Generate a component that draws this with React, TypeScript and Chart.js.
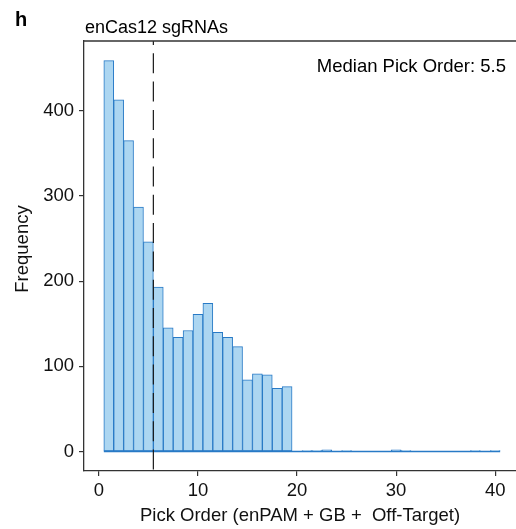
import React, { useEffect, useRef } from "react";
import { Chart, registerables } from "chart.js";

Chart.register(...registerables);

const PANEL_LABEL = "h";
const TITLE = "enCas12 sgRNAs";
const X_TITLE = "Pick Order (enPAM + GB +  Off-Target)";
const Y_TITLE = "Frequency";
const MEDIAN = 5.5;
const MEDIAN_LABEL = "Median Pick Order: 5.5";

const PICK_ORDER = [
  1, 2, 3, 4, 5, 6, 7, 8, 9, 10, 11, 12, 13, 14, 15, 16, 17, 18, 19, 20,
  21, 22, 23, 24, 25, 26, 27, 28, 29, 30, 31, 32, 33, 34, 35, 36, 37, 38, 39, 40,
];
const FREQUENCY = [
  459, 413, 365, 287, 246, 193, 145, 134, 142, 161, 174, 140, 134, 123, 84, 91, 90, 74, 76, 0,
  1, 1, 2, 0, 1, 0, 0, 0, 0, 2, 1, 0, 0, 0, 0, 0, 0, 1, 0, 1,
];
const BIN_RANGE = [0.5, 40.5];
const X_TICKS = [0, 10, 20, 30, 40];
const Y_TICKS = [0, 100, 200, 300, 400];
const X_LIMITS = [-1.5, 42.1];
const Y_LIMITS = [-23, 482];

const FONT = "'Liberation Sans', Arial, Helvetica, sans-serif";
const FILL = "rgb(172,214,241)";
const EDGE = "rgb(40,122,198)";
const AXIS = "#333333";

const annotations = {
  id: "annotations",
  afterDatasetsDraw(chart: any) {
    const { ctx, chartArea: a, scales } = chart;
    const x = scales.x.getPixelForValue(MEDIAN);
    ctx.save();
    ctx.strokeStyle = "#1a1a1a";
    ctx.lineWidth = 1.2;
    ctx.setLineDash([20, 8.3]);
    ctx.lineDashOffset = 16;
    ctx.beginPath();
    ctx.moveTo(x, a.top);
    ctx.lineTo(x, a.bottom);
    ctx.stroke();
    ctx.restore();
  },
  afterDraw(chart: any) {
    const { ctx, chartArea: a } = chart;
    ctx.save();
    // top border of the panel
    ctx.strokeStyle = AXIS;
    ctx.lineWidth = 1.3;
    ctx.beginPath();
    ctx.moveTo(a.left, a.top);
    ctx.lineTo(a.right, a.top);
    ctx.stroke();

    ctx.fillStyle = "#000";
    ctx.textBaseline = "alphabetic";
    ctx.textAlign = "left";
    ctx.font = `bold 20px ${FONT}`;
    ctx.fillText(PANEL_LABEL, 15, 26);

    ctx.font = `18px ${FONT}`;
    ctx.fillText(TITLE, a.left + 1, a.top - 8.5);

    ctx.font = `18.5px ${FONT}`;
    ctx.textAlign = "right";
    ctx.fillText(MEDIAN_LABEL, a.right - 10, a.top + 30.5);

    ctx.fillStyle = "#111";
    ctx.translate(a.left - 61, (a.top + a.bottom) / 2 - 7);
    ctx.rotate(-Math.PI / 2);
    ctx.textAlign = "center";
    ctx.textBaseline = "middle";
    ctx.fillText(Y_TITLE, 0, 0);
    ctx.restore();
  },
};

export default function App() {
  const ref = useRef<HTMLCanvasElement | null>(null);

  useEffect(() => {
    if (!ref.current) return;
    Chart.defaults.font.family = FONT;
    const chart = new Chart(ref.current, {
      type: "bar",
      data: {
        datasets: [
          {
            type: "bar",
            data: PICK_ORDER.map((x, i) => ({ x, y: FREQUENCY[i] })),
            backgroundColor: FILL,
            borderColor: EDGE,
            borderWidth: 1,
            borderSkipped: false,
            barPercentage: 1,
            categoryPercentage: 1,
            order: 2,
          } as any,
          {
            type: "line",
            data: BIN_RANGE.map((x) => ({ x, y: 0 })),
            borderColor: EDGE,
            borderWidth: 1.5,
            pointRadius: 0,
            order: 1,
          } as any,
        ],
      },
      options: {
        animation: false,
        responsive: false,
        devicePixelRatio: 1,
        layout: { padding: { top: 41, left: 0, right: 0, bottom: 0 } },
        plugins: {
          legend: { display: false },
          tooltip: { enabled: false },
        },
        scales: {
          x: {
            type: "linear",
            min: X_LIMITS[0],
            max: X_LIMITS[1],
            offset: false,
            afterBuildTicks: (s: any) => {
              s.ticks = X_TICKS.map((value) => ({ value }));
            },
            afterFit: (s: any) => {
              s.height = 58;
            },
            grid: {
              offset: false,
              drawOnChartArea: false,
              drawTicks: true,
              tickLength: 5,
              color: AXIS,
              lineWidth: 1.2,
            },
            border: { display: true, color: AXIS, width: 1.3 },
            ticks: {
              color: "#111",
              font: { size: 18.5, family: FONT },
              padding: 4,
              maxRotation: 0,
            },
            title: {
              display: true,
              text: X_TITLE,
              color: "#111",
              font: { size: 18.5, family: FONT },
              padding: { top: 0, bottom: 2 },
            },
          },
          y: {
            type: "linear",
            min: Y_LIMITS[0],
            max: Y_LIMITS[1],
            afterBuildTicks: (s: any) => {
              s.ticks = Y_TICKS.map((value) => ({ value }));
            },
            afterFit: (s: any) => {
              s.width = 84;
            },
            grid: {
              drawOnChartArea: false,
              drawTicks: true,
              tickLength: 5,
              color: AXIS,
              lineWidth: 1.2,
            },
            border: { display: true, color: AXIS, width: 1.3 },
            ticks: {
              color: "#111",
              font: { size: 18.5, family: FONT },
              padding: 5,
            },
          },
        },
      } as any,
      plugins: [annotations],
    });
    return () => chart.destroy();
  }, []);

  return (
    <div style={{ position: "fixed", left: 0, top: 0, width: 516, height: 529, background: "#fff" }}>
      <canvas ref={ref} width={516} height={529} style={{ display: "block" }} />
    </div>
  );
}
